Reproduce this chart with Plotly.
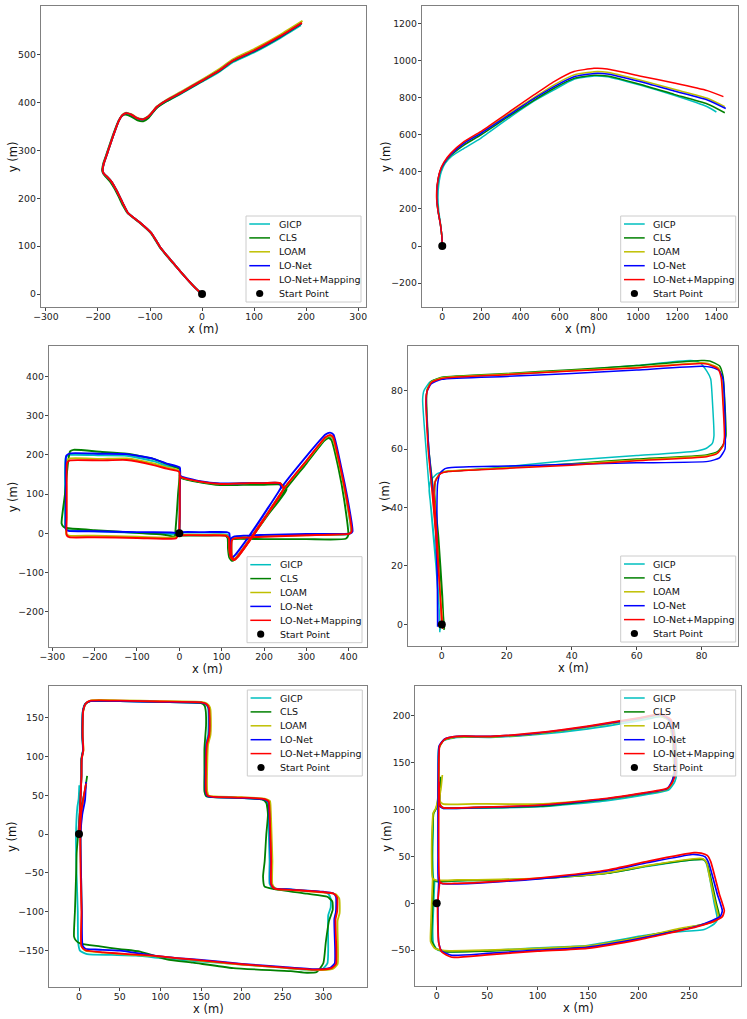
import plotly.graph_objects as go

# ── Figure size (pixels) ──────────────────────────────────────────────────────
W, H = 747, 1019

METHODS = ["GICP", "CLS", "LOAM", "LO-Net", "LO-Net+Mapping"]
COLORS = ["#00bfbf", "#008000", "#bfbf00", "#0000ff", "#ff0000"]
START = (0, 0)

# ── Panel 1: trajectories (x, y) in metres ───────────────────────────────────
P1_GICP = [(0, 0), (-12, 12), (-30, 33), (-50, 58), (-56, 66), (-64, 76), (-81, 99), (-97, 127),
           (-120, 150), (-142, 169), (-150, 185), (-158, 203), (-166, 220), (-174, 235), (-183, 246),
           (-189, 252), (-191, 259), (-189, 272), (-184, 288), (-180, 301), (-170, 333), (-160, 362),
           (-153, 374), (-146, 377), (-136, 374), (-124, 366), (-113, 364), (-103, 370), (-94, 381),
           (-87, 390), (-68, 403), (-40, 419), (0, 444), (30, 462), (60, 485), (100, 505), (150, 535),
           (190, 562)]
P1_CLS = [(0, 0), (-12, 12), (-30, 33), (-50, 58), (-57, 66), (-65, 76), (-82, 99), (-98, 127),
          (-121, 150), (-143, 169), (-152, 185), (-160, 203), (-168, 220), (-176, 234), (-185, 245),
          (-190, 252), (-192, 259), (-190, 272), (-185, 288), (-181, 301), (-171, 333), (-161, 361),
          (-154, 372), (-147, 375), (-136, 371), (-124, 363), (-113, 361), (-103, 368), (-94, 380),
          (-87, 389), (-68, 403), (-40, 420), (0, 445), (30, 464), (60, 487), (100, 507), (150, 537),
          (191, 565)]
P1_LOAM = [(0, 0), (-12, 12), (-30, 33), (-50, 58), (-56, 66), (-64, 76), (-81, 99), (-97, 127),
           (-120, 150), (-142, 169), (-150, 185), (-158, 203), (-166, 220), (-174, 235), (-183, 246),
           (-189, 252), (-191, 259), (-189, 272), (-184, 288), (-180, 301), (-170, 333), (-160, 362),
           (-153, 375), (-146, 379), (-136, 376), (-124, 368), (-113, 366), (-103, 372), (-94, 383),
           (-87, 392), (-68, 406), (-40, 423), (0, 448), (30, 468), (60, 491), (100, 512), (150, 542),
           (193, 571)]
P1_LONET = [(0, 0), (-12, 12), (-30, 33), (-50, 58), (-56, 66), (-64, 76), (-81, 99), (-97, 127),
            (-120, 150), (-142, 169), (-150, 185), (-158, 203), (-166, 220), (-174, 235), (-183, 246),
            (-189, 252), (-191, 259), (-189, 272), (-184, 288), (-180, 301), (-170, 333), (-160, 362),
            (-153, 374), (-146, 378), (-136, 375), (-124, 367), (-113, 365), (-103, 371), (-94, 382),
            (-87, 391), (-68, 405), (-40, 421), (0, 446), (30, 465), (60, 488), (100, 508), (150, 538),
            (191, 566)]
P1_MAP = [(0, 0), (-12, 12), (-30, 33), (-50, 58), (-56, 66), (-64, 76), (-81, 99), (-97, 127),
          (-120, 150), (-142, 169), (-150, 185), (-158, 203), (-166, 220), (-174, 235), (-183, 246),
          (-189, 252), (-191, 259), (-189, 272), (-184, 288), (-180, 301), (-170, 333), (-160, 362),
          (-153, 374), (-146, 378), (-136, 375), (-124, 367), (-113, 365), (-103, 371), (-94, 382),
          (-87, 391), (-68, 405), (-40, 421), (0, 446), (30, 465), (60, 488), (100, 509), (150, 539),
          (192, 567)]

# ── Panel 2 ──────────────────────────────────────────────────────────────────
P2_GICP = [(0, 0), (-2, 50), (-9, 120), (-18, 190), (-22, 260), (-18, 330), (-5, 400), (15, 445),
           (50, 485), (111, 526), (196, 580), (332, 683), (468, 780), (571, 841), (673, 898),
           (775, 916), (843, 912), (1014, 866), (1184, 812), (1354, 750), (1400, 722)]
P2_CLS = [(0, 0), (-2, 50), (-10, 120), (-21, 190), (-27, 260), (-24, 330), (-11, 400), (10, 446),
          (46, 490), (111, 544), (196, 598), (332, 693), (468, 785), (571, 850), (673, 903),
          (775, 920), (843, 916), (1014, 870), (1184, 817), (1354, 765), (1443, 718)]
P2_LOAM = [(0, 0), (-2, 50), (-10, 120), (-22, 190), (-28, 260), (-25, 330), (-12, 400), (9, 448),
           (45, 495), (111, 557), (196, 610), (332, 706), (468, 800), (571, 868), (673, 922),
           (775, 939), (843, 936), (1014, 893), (1184, 844), (1354, 796), (1443, 751)]
P2_LONET = [(0, 0), (-2, 50), (-10, 120), (-22, 190), (-28, 260), (-25, 330), (-12, 400), (9, 447),
            (45, 494), (111, 553), (196, 606), (332, 700), (468, 794), (571, 859), (673, 912),
            (775, 930), (843, 927), (1014, 885), (1184, 835), (1354, 787), (1448, 741)]
P2_MAP = [(0, 0), (-2, 50), (-10, 120), (-22, 190), (-29, 260), (-26, 330), (-13, 400), (8, 450),
          (43, 499), (111, 562), (196, 616), (332, 715), (468, 814), (571, 886), (673, 940),
          (775, 957), (843, 954), (1014, 915), (1184, 878), (1354, 837), (1436, 805)]

# ── Panel 3 ──────────────────────────────────────────────────────────────────
P3_GICP = [(0, 0), (1, 50), (1, 100), (1, 148), (0, 165), (-30, 172), (-61, 184), (-124, 198),
           (-187, 199), (-258, 200), (-268, 194), (-270, 120), (-270, 40), (-269, 12), (-262, 8),
           (-200, 5), (-100, 1), (-20, -2), (-8, -2), (-3, -2), (5, -3), (60, -3), (112, -3),
           (118, -8), (119, -40), (122, -60), (128, -67), (136, -61), (166, -17), (206, 46),
           (250, 118), (300, 182), (345, 240), (355, 247), (362, 242), (379, 170), (394, 90),
           (405, 4), (400, -2), (300, -4), (200, -6), (130, -10), (124, -16), (124, -60), (130, -67),
           (140, -57), (172, -9), (210, 52), (247, 113), (238, 127), (200, 127), (167, 127), (96, 125),
           (49, 131), (5, 142), (0, 147)]
P3_CLS = [(-10, -6), (-6, 50), (-3, 100), (1, 150), (0, 165), (-30, 177), (-61, 190), (-124, 203),
          (-187, 208), (-250, 213), (-258, 209), (-263, 180), (-270, 100), (-278, 25), (-273, 16),
          (-262, 13), (-200, 8), (-100, 1), (-40, -3), (-15, -8), (-8, -7), (5, -6), (60, -6),
          (108, -6), (114, -12), (115, -40), (118, -62), (124, -70), (133, -64), (167, -15), (208, 48),
          (253, 115), (300, 178), (342, 236), (352, 243), (359, 238), (376, 165), (390, 80),
          (399, -5), (393, -14), (300, -15), (200, -15), (125, -15), (119, -20), (119, -60),
          (126, -70), (137, -60), (170, -12), (210, 48), (253, 112), (242, 124), (200, 124),
          (167, 124), (96, 123), (49, 130), (5, 141), (0, 146)]
P3_LOAM = [(0, 0), (1, 50), (1, 100), (1, 148), (0, 160), (-30, 168), (-61, 178), (-124, 191),
           (-187, 190), (-258, 191), (-266, 185), (-267, 120), (-267, 40), (-267, -2), (-261, -6),
           (-200, -6), (-100, -9), (-20, -11), (-8, -10), (-3, -5), (5, -4), (60, -4), (110, -5),
           (117, -11), (118, -40), (121, -60), (127, -67), (135, -61), (165, -17), (205, 46),
           (250, 118), (300, 184), (345, 243), (355, 249), (362, 244), (379, 170), (394, 90),
           (406, 4), (401, -1), (300, -5), (200, -8), (130, -12), (124, -17), (124, -60), (130, -67),
           (140, -57), (172, -9), (210, 52), (246, 113), (238, 128), (200, 128), (167, 128), (96, 126),
           (49, 132), (5, 143), (0, 148)]
P3_LONET = [(0, 0), (1, 50), (1, 100), (2, 150), (1, 168), (-30, 178), (-61, 190), (-124, 202),
            (-187, 203), (-258, 204), (-267, 198), (-268, 120), (-268, 40), (-268, 10), (-262, 6),
            (-200, 5), (-100, 3), (-20, 2), (-5, 1), (0, 2), (5, 3), (60, 3), (112, 3), (118, 0),
            (119, -30), (120, -55), (124, -62), (132, -55), (160, -15), (198, 45), (242, 118),
            (295, 190), (345, 252), (356, 257), (364, 252), (382, 170), (397, 90), (409, 5), (404, 0),
            (300, -2), (200, -4), (130, -8), (122, -14), (121, -55), (125, -62), (135, -52),
            (166, -5), (204, 56), (240, 118), (236, 128), (200, 128), (167, 128), (96, 127),
            (49, 133), (5, 145), (0, 150)]
P3_MAP = [(0, 0), (1, 50), (1, 100), (1, 145), (0, 157), (-30, 165), (-61, 174), (-124, 187),
          (-187, 186), (-258, 186), (-265, 180), (-266, 120), (-266, 40), (-266, -5), (-260, -10),
          (-200, -10), (-100, -12), (-20, -14), (-8, -13), (-3, -6), (5, -5), (60, -5), (110, -6),
          (117, -12), (118, -40), (121, -60), (127, -68), (135, -62), (165, -18), (205, 45),
          (250, 118), (300, 185), (345, 245), (356, 251), (363, 246), (380, 170), (395, 90),
          (407, 5), (402, -1), (300, -5), (200, -9), (130, -13), (124, -18), (124, -60), (130, -68),
          (140, -58), (172, -10), (210, 52), (246, 113), (238, 128), (200, 128), (167, 128),
          (96, 126), (49, 132), (5, 143), (0, 148)]

# ── Panel 4 ──────────────────────────────────────────────────────────────────
P4_GICP = [(-0.6, -2.7), (-1, 10), (-2, 25), (-3.3, 40), (-3.9, 46), (-3.3, 49.5), (-1.5, 51.5),
           (1, 52.3), (5, 52.6), (20, 54), (40.7, 56.3), (60, 57.8), (78, 59.3), (81.5, 60.3),
           (83.3, 62), (83.8, 64.5), (83.4, 75), (82.8, 84), (81.7, 86.5), (79.5, 89.5), (76.6, 90.3),
           (60, 88.6), (40, 86.9), (20, 85.5), (0, 84.3), (-3.6, 83), (-5.5, 80), (-5.9, 77),
           (-5.2, 65), (-4.5, 55), (-4, 48), (-3, 35), (-1.8, 20), (-0.8, 5), (-0.5, -2)]
P4_CLS = [(0.7, -1.9), (0.2, 10), (-1, 30), (-2.2, 45), (-1.8, 49.5), (-0.3, 51.8), (2, 52.4),
          (20, 53.6), (40, 55), (60, 56.6), (81.5, 58), (85, 59.2), (86.8, 61.8), (87.5, 64.5),
          (87.2, 75), (86.6, 85), (85.5, 88.5), (82.5, 90.2), (80, 90.3), (60, 88.6), (40, 87.2),
          (20, 85.9), (0, 84.6), (-3.2, 83.2), (-4.5, 80.4), (-4.7, 77), (-4, 60), (-2.8, 48),
          (-1.3, 30), (0, 10), (0.8, -1.5)]
P4_LOAM = [(0, 0), (-0.5, 10), (-1.5, 30), (-2.3, 45), (-1.9, 49.5), (-0.3, 51.8), (2, 52.5),
           (20, 53.6), (40, 54.8), (60, 56.3), (81.5, 57.7), (85, 58.8), (86.7, 61.3), (87.2, 64),
           (86.8, 75), (86.2, 84.5), (85.2, 87.8), (82, 89.3), (80, 89.6), (60, 88), (40, 86.9),
           (20, 85.7), (0, 84.4), (-3.2, 83), (-4.5, 80.2), (-4.8, 77), (-4.1, 60), (-3.1, 48),
           (-1.7, 30), (-0.4, 10), (0.4, -1.5)]
P4_LONET = [(-1.3, -0.8), (-1.4, 20), (-1.5, 40), (-1.3, 48), (-0.5, 51.8), (1, 53.3), (3, 53.7),
            (20, 54.2), (40, 54.8), (60, 55.3), (82, 55.8), (85.5, 57), (87.2, 60), (87.3, 64),
            (87.1, 75), (86.6, 84), (85.5, 86.8), (83, 88), (80, 88.4), (60, 87.1), (40, 85.9),
            (20, 84.9), (0, 83.9), (-3.3, 82.3), (-4.6, 79.5), (-4.8, 76.5), (-4, 60), (-3, 48),
            (-2, 35), (-1.4, 15), (-1.2, -0.5)]
P4_MAP = [(0, 0), (-0.5, 10), (-1.5, 30), (-2.4, 45), (-2, 49), (-0.5, 51.5), (2, 52.3), (20, 53.4),
          (40, 54.5), (60, 56), (81.5, 57.4), (84.8, 58.5), (86.5, 61), (87, 64), (86.6, 75),
          (86, 84.5), (85, 87.5), (82, 89), (80, 89.3), (60, 87.8), (40, 86.7), (20, 85.5),
          (0, 84.2), (-3.2, 82.8), (-4.5, 80), (-4.9, 76.8), (-4.2, 60), (-3.2, 48), (-1.8, 30),
          (-0.5, 10), (0.3, -1.5)]

# ── Panel 5 ──────────────────────────────────────────────────────────────────
P5_GICP = [(0, 0), (0.5, 25), (1.5, 50), (2.5, 75), (2.8, 97), (4.8, 108), (4, 125), (4, 143),
           (4.5, 158), (7.5, 168), (13, 171.5), (50, 171.5), (100, 170.5), (150, 169.5),
           (155.5, 167.5), (158.5, 163), (159, 140), (158.5, 128), (156, 115), (155, 90), (155, 55),
           (157, 49), (164, 47.5), (200, 46.5), (226, 44.5), (231, 41.5), (232, 30), (233, 0),
           (234, -35), (234, -64), (238, -70), (260, -71.5), (300, -75), (306, -77), (309, -83),
           (309, -95), (306, -105), (306, -150), (305, -167), (298, -175), (280, -175),
           (250, -172.5), (200, -168.5), (170, -166), (150, -164.5), (120, -162), (99.5, -160),
           (70, -157), (40, -156), (10, -155), (1.2, -150.4), (-1, -140), (-1.5, -100), (-3, -50),
           (-3.7, -3.4), (-2, 35), (-0.5, 45), (0.4, 63)]
P5_CLS = [(0, 0), (1, 25), (2, 50), (3, 75), (3, 97), (5, 108), (4.2, 125), (4.2, 143), (4.8, 158),
          (8, 168), (14, 171.5), (50, 171.5), (100, 170.5), (150, 169), (154, 166), (155.5, 160),
          (156, 140), (155, 125), (154, 110), (154, 80), (154, 55), (156, 49), (163, 47.5),
          (200, 46.5), (225, 44.5), (230, 40), (232, 25), (230, 0), (228, -35), (226, -55),
          (228, -68), (240, -71), (280, -77), (305, -81), (311, -87), (311.5, -98), (307, -112),
          (303, -140), (300, -166.7), (292, -178), (280, -179), (260, -177), (189.5, -173),
          (140, -166), (107.7, -161.6), (75, -151.7), (50, -148.5), (25.8, -145), (1.2, -141),
          (-4, -137), (-6.1, -132.4), (-5, -100), (-3.5, -50), (-2.9, -25), (-1, 0), (1.2, 26.6),
          (5, 45), (7.4, 56.7), (10, 75)]
P5_LOAM = [(0, 0), (1, 25), (2, 50), (3, 75), (3.5, 97), (5.5, 108), (4.7, 125), (4.7, 143),
           (5.2, 158), (8.5, 168), (15, 172.5), (50, 172.5), (100, 171.5), (150, 170.5),
           (157, 168.5), (161, 163), (162, 140), (161.5, 128), (158.5, 115), (157.5, 90),
           (157.5, 55), (159.5, 49.5), (166, 48.5), (200, 47.5), (229, 45.5), (234.5, 42.5),
           (235.5, 30), (236.5, 0), (237.5, -35), (237.5, -65), (241.5, -70.5), (260, -72.5),
           (300, -75.5), (315, -77.5), (319.5, -83), (320, -102), (317.5, -112), (318, -150),
           (317.5, -168), (311.5, -174), (290, -175.5), (250, -172.5), (200, -168.5), (170, -165.5),
           (150, -163.5), (120, -160.5), (91, -157.5), (60, -155.5), (30, -153), (8, -150.5),
           (3.5, -145), (3.5, -100), (2.5, -50), (2, 0), (3.5, 30), (6.5, 50), (9, 66)]
P5_LONET = [(0, 0), (1, 25), (2, 50), (3, 75), (3.3, 97), (5, 108), (4.3, 125), (4.3, 143),
            (4.8, 158), (8, 168), (14, 171.5), (50, 171.5), (100, 170.5), (150, 169.5), (156, 167.5),
            (159, 163), (160, 140), (159.5, 128), (156.5, 115), (155.5, 90), (155.5, 55), (157.5, 49),
            (165, 47.5), (200, 46.5), (228, 44.5), (232.5, 41.5), (233.5, 30), (234.5, 0),
            (235.5, -35), (235.5, -64), (239.5, -70), (260, -71.5), (300, -74.5), (312, -76.5),
            (315.5, -81), (315.5, -100), (313.5, -110), (314.5, -150), (314, -167), (308.5, -172.5),
            (290, -174.5), (250, -171.5), (200, -167.5), (170, -164.5), (150, -162.5), (120, -160),
            (100, -158), (80, -155), (50, -150.5), (20, -149), (8, -148), (4.5, -144), (3.5, -100),
            (2.5, -50), (2, 0), (4, 25), (7.4, 43.8), (8.6, 67)]
P5_MAP = [(0, 0), (1, 25), (2, 50), (3, 75), (3.3, 97), (5.3, 108), (4.5, 125), (4.5, 143), (5, 158),
          (8, 168), (14, 172), (50, 172), (100, 171), (150, 170), (156, 168), (159.5, 163),
          (160.5, 140), (160, 128), (157, 115), (156, 90), (156, 55), (158, 49.5), (165, 48),
          (200, 47), (228, 45), (233, 42), (234, 30), (235, 0), (236, -35), (236, -65), (240, -70.5),
          (260, -72), (300, -75), (313, -77), (317, -82), (317, -100), (315, -110), (316, -150),
          (315.5, -168), (310, -173), (290, -175), (250, -172), (200, -168), (170, -165),
          (150, -163), (120, -160), (91, -157), (60, -155), (30, -152.6), (8, -150), (3, -145),
          (3, -100), (2, -50), (1.5, 0), (3, 30), (6, 50), (8.6, 65)]

# ── Panel 6 ──────────────────────────────────────────────────────────────────
P6_GICP = [(-2, 26), (-3, 0), (-4, -30), (-3.3, -42.6), (0, -49), (8, -51.5), (50, -50.5),
           (100, -47.5), (149, -45), (202, -35), (230, -31), (265, -28), (275, -22), (278, -17),
           (275, 0), (270, 30), (267, 43), (264, 47), (255, 46.5), (210, 39.5), (169, 32), (120, 27.5),
           (86.5, 25.5), (40, 24.5), (20.5, 24), (0, 23), (-3, 25), (-4, 50), (-3.5, 80), (-3.3, 96),
           (-0.5, 101), (1, 110), (1.5, 140), (2, 166), (7, 173.5), (20, 177), (53.5, 177),
           (100, 180), (150, 186), (202, 195), (222, 199), (233, 194), (237, 170), (238, 140),
           (236, 130), (230, 121), (200, 114.5), (169, 109.5), (103, 103), (37, 101.5), (6, 101.5),
           (2, 105), (2, 115)]
P6_CLS = [(-3, 26), (-4, 0), (-5, -30), (-5, -40), (-1, -48), (8, -51.5), (50, -51), (100, -48.5),
          (149, -46), (202, -36), (240, -28), (266, -22), (277, -18), (280, -14), (277, 0), (271, 30),
          (268, 42), (265, 46.5), (255, 46.5), (210, 40), (169, 32), (120, 27.5), (86.5, 25.5),
          (40, 24.5), (20.5, 24.2), (0, 23.5), (-3.5, 25.5), (-4.5, 50), (-4, 80), (-3, 96),
          (-0.5, 101), (1.5, 110), (2, 140), (2.5, 166), (7, 174), (20, 177.5), (53.5, 177.5),
          (100, 181), (150, 188), (202, 197), (220, 200.5), (230, 195), (234, 170), (235, 140),
          (233, 128), (228, 121.5), (200, 116), (169, 111), (103, 103.5), (37, 102), (6, 102),
          (3, 106), (3.5, 120), (4, 135)]
P6_LOAM = [(-4, 26), (-5, 0), (-6, -30), (-6, -41), (-2, -48), (8, -50.5), (50, -50), (100, -48),
           (149, -45.5), (202, -36), (240, -27), (265, -22.5), (276, -19), (279, -15), (276, 0),
           (270, 30), (267.5, 43), (264, 47.5), (255, 47.5), (210, 40.5), (169, 32.5), (120, 28),
           (86.5, 26), (40, 25), (20.5, 24.9), (0, 24.5), (-4, 26.5), (-5, 50), (-4.5, 80),
           (-3.5, 96), (-1, 101), (1, 110), (2, 140), (2.5, 166), (7, 174), (20, 177.5),
           (53.5, 177.5), (100, 181), (150, 188), (202, 197), (220, 200), (230, 195), (234, 170),
           (235, 140), (233, 128), (228, 121.5), (200, 116.5), (169, 111.5), (103, 106), (37, 106),
           (6, 106), (3, 110), (4.5, 125), (5.6, 136.8)]
P6_LONET = [(2, 23), (1.3, 0), (1.3, -20), (2, -42), (5, -51), (15, -55.5), (50, -53.5), (100, -50),
            (149, -47), (202, -37.5), (258, -24.5), (273, -18.5), (281, -14), (283, -8), (278, 10),
            (269.5, 43), (266, 49.5), (260, 51.5), (253, 52), (210, 43.5), (169, 34.5), (120, 28),
            (86.5, 24.8), (40, 21.5), (20.5, 20.8), (6, 20.8), (2, 22.5), (1.3, 50), (1.3, 100),
            (1.5, 140), (2.5, 168), (7.5, 175), (20, 178), (53.5, 178), (100, 181.5), (150, 188.5),
            (202, 197.5), (222, 201), (231, 195), (235, 170), (236, 140), (233, 130), (228, 122),
            (200, 116.5), (169, 111.5), (103, 104.3), (37, 102), (6, 101.5), (2, 105), (2.3, 120),
            (2.3, 129.7)]
P6_MAP = [(3, 23), (1, 0), (1, -20), (2, -42), (5, -52), (15, -57.5), (50, -55), (100, -51),
          (149, -48), (202, -38.4), (258, -24.9), (275, -19), (283, -14.2), (285, -8), (280, 10),
          (271.5, 44.4), (268, 51), (262, 53.5), (255, 54), (210, 45), (169, 35.5), (120, 29),
          (86.5, 25.6), (40, 22), (20.5, 21.3), (6, 21), (3, 23), (2, 50), (2, 100), (2, 140),
          (3, 168), (8, 175), (20, 178), (53.5, 178), (100, 182), (150, 189), (202, 198), (222, 202),
          (232, 196), (236, 170), (237, 140), (234, 130), (228.5, 122.6), (200, 117), (169, 112),
          (103, 104.8), (37, 102.3), (6, 102), (3, 106), (2.5, 120), (2.3, 129.7)]

# ── Axis ranges and tick labels per panel ────────────────────────────────────
X_RANGES = [(-310, 315), (-105, 1512), (-308.5, 442.5), (-10.5, 91.3), (-37.2, 354), (-21.2, 301.2)]
Y_RANGES = [(-27, 602), (-327, 1293), (-291, 478), (-7.4, 95.3), (-197, 191), (-88.2, 231.7)]
X_TICKS = [[-300, -200, -100, 0, 100, 200, 300],
           [0, 200, 400, 600, 800, 1000, 1200, 1400],
           [-300, -200, -100, 0, 100, 200, 300, 400],
           [0, 20, 40, 60, 80],
           [0, 50, 100, 150, 200, 250, 300],
           [0, 50, 100, 150, 200, 250]]
Y_TICKS = [[0, 100, 200, 300, 400, 500],
           [-200, 0, 200, 400, 600, 800, 1000, 1200],
           [-200, -100, 0, 100, 200, 300, 400],
           [0, 20, 40, 60, 80],
           [-150, -100, -50, 0, 50, 100, 150],
           [-50, 0, 50, 100, 150, 200]]

PANEL_PATHS = [
    [P1_GICP, P1_CLS, P1_LOAM, P1_LONET, P1_MAP],
    [P2_GICP, P2_CLS, P2_LOAM, P2_LONET, P2_MAP],
    [P3_GICP, P3_CLS, P3_LOAM, P3_LONET, P3_MAP],
    [P4_GICP, P4_CLS, P4_LOAM, P4_LONET, P4_MAP],
    [P5_GICP, P5_CLS, P5_LOAM, P5_LONET, P5_MAP],
    [P6_GICP, P6_CLS, P6_LOAM, P6_LONET, P6_MAP],
]

# ── Layout geometry (pixels): axes boxes, legend boxes, line widths ──────────
AX_BOX = [(40.7, 6, 366, 307), (421.7, 6, 738.3, 306.7),
          (48.7, 346, 366.7, 647.3), (407.7, 346, 738.3, 646),
          (48.7, 686, 367.3, 986.7), (415.3, 686, 740.7, 986)]
YTITLE_X = [12.7, 386.7, 12.7, 384.5, 12.7, 386.7]
LEG_BOX = [(246, 216), (620.7, 216), (247, 556.7), (620.7, 556), (247.3, 690), (620.7, 690)]
LINE_W = [1.9, 1.5, 1.9, 1.5, 1.8, 1.7]

FONT = "DejaVu Sans"


def px_x(v):
    return v / W


def px_y(v):
    return 1 - v / H


fig = go.Figure()
layout = {}
shapes = []
annotations = []
title_font = dict(family=FONT, size=11.5, color="#111")

for i, paths in enumerate(PANEL_PATHS):
    sfx = "" if i == 0 else str(i + 1)
    for name, color, pts in zip(METHODS, COLORS, paths):
        fig.add_trace(go.Scatter(
            x=[p[0] for p in pts], y=[p[1] for p in pts], mode="lines", name=name,
            line=dict(color=color, width=LINE_W[i], shape="spline", smoothing=0.5),
            xaxis="x" + sfx, yaxis="y" + sfx, showlegend=False, hoverinfo="skip"))
    fig.add_trace(go.Scatter(
        x=[START[0]], y=[START[1]], mode="markers", name="Start Point",
        marker=dict(color="black", size=8), xaxis="x" + sfx, yaxis="y" + sfx,
        showlegend=False, hoverinfo="skip"))

    x0, y0, x1, y1 = AX_BOX[i]
    common = dict(showgrid=False, zeroline=False, showline=True, mirror=True,
                  linecolor="#808080", linewidth=1, ticks="outside", ticklen=3,
                  tickwidth=1, tickcolor="#444", automargin=False,
                  tickfont=dict(family=FONT, size=9.3, color="#222"))
    layout["xaxis" + sfx] = dict(common, domain=[px_x(x0), px_x(x1)], range=list(X_RANGES[i]),
                                 anchor="y" + sfx, tickvals=X_TICKS[i], ticklabelstandoff=-2)
    layout["yaxis" + sfx] = dict(common, domain=[px_y(y1), px_y(y0)], range=list(Y_RANGES[i]),
                                 anchor="x" + sfx, tickvals=Y_TICKS[i], ticklabelstandoff=-1)

    # axis titles placed where matplotlib put them
    annotations.append(dict(text="x (m)", xref="paper", yref="paper", x=px_x((x0 + x1) / 2),
                            y=px_y(y1 + 22), xanchor="center", yanchor="middle",
                            showarrow=False, font=title_font))
    annotations.append(dict(text="y (m)", xref="paper", yref="paper", x=px_x(YTITLE_X[i]),
                            y=px_y((y0 + y1) / 2), xanchor="center", yanchor="middle",
                            textangle=-90, showarrow=False, font=title_font))

    # hand-drawn legend box (matplotlib style)
    lx, ly = LEG_BOX[i]
    shapes.append(dict(type="rect", xref="paper", yref="paper",
                       x0=px_x(lx), x1=px_x(lx + 115), y0=px_y(ly + 86), y1=px_y(ly),
                       line=dict(color="#cccccc", width=1),
                       fillcolor="rgba(255,255,255,0.8)", layer="above"))
    labels = METHODS + ["Start Point"]
    for k, lab in enumerate(labels):
        cy = ly + 8 + 13.9 * k
        if k < len(METHODS):
            shapes.append(dict(type="line", xref="paper", yref="paper",
                               x0=px_x(lx + 3.3), x1=px_x(lx + 24), y0=px_y(cy), y1=px_y(cy),
                               line=dict(color=COLORS[k], width=1.5), layer="above"))
        else:
            r = 3.6
            shapes.append(dict(type="circle", xref="paper", yref="paper",
                               x0=px_x(lx + 13.7 - r), x1=px_x(lx + 13.7 + r),
                               y0=px_y(cy + r), y1=px_y(cy - r),
                               fillcolor="black", line=dict(color="black", width=0), layer="above"))
        annotations.append(dict(text=lab, xref="paper", yref="paper", x=px_x(lx + 30.7),
                                y=px_y(cy), xanchor="left", yanchor="middle", showarrow=False,
                                font=dict(family=FONT, size=9.5, color="#111")))

fig.update_layout(**layout)
fig.update_layout(width=W, height=H, margin=dict(l=0, r=0, t=0, b=0),
                  paper_bgcolor="white", plot_bgcolor="white",
                  shapes=shapes, annotations=annotations, showlegend=False,
                  font=dict(family=FONT))

# the page's default body margin would push the figure 8 px off the window
fig.write_html("out.html", config={"displayModeBar": False},
               post_script="document.body.style.margin='0';document.body.style.overflow='hidden';")
